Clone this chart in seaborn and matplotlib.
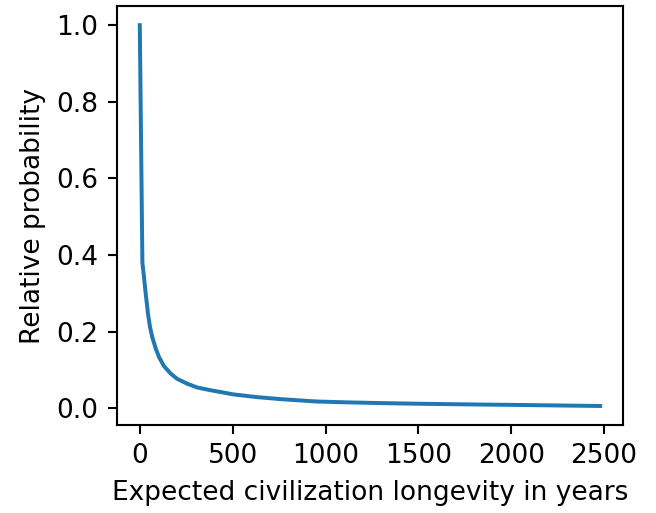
import pandas as pd
import numpy as np
import matplotlib
matplotlib.use("Agg")
import matplotlib.pyplot as plt
import seaborn as sns

# values
longevity = [0, 14, 22, 31, 44, 55, 67, 85, 103, 130, 165, 200, 255, 310, 380,
             505, 630, 764, 951, 1121, 1273, 1478, 1728, 2014, 2250, 2479]
probability = [1.0, 0.38, 0.345, 0.303, 0.247, 0.212, 0.186, 0.157, 0.134, 0.110, 0.091,
               0.077, 0.064, 0.054, 0.047, 0.036, 0.029, 0.0235, 0.0175, 0.0152, 0.0136,
               0.0118, 0.0102, 0.0086, 0.0072, 0.0058]

df = pd.DataFrame({"longevity": longevity, "probability": probability})

DPI = 190
fig = plt.figure(figsize=(656 / DPI, 513 / DPI), dpi=DPI)
ax = fig.add_subplot(111)
sns.lineplot(data=df, x="longevity", y="probability", ax=ax, color="#1f77b4", linewidth=1.5)
ax.set_xlabel("Expected civilization longevity in years")
ax.set_ylabel("Relative probability")
ax.set_xticks([0, 500, 1000, 1500, 2000, 2500])
ax.set_yticks([0.0, 0.2, 0.4, 0.6, 0.8, 1.0])

fig.subplots_adjust(left=0.178, right=0.950, bottom=0.1715, top=0.988)
fig.savefig("out.png", dpi=DPI)
